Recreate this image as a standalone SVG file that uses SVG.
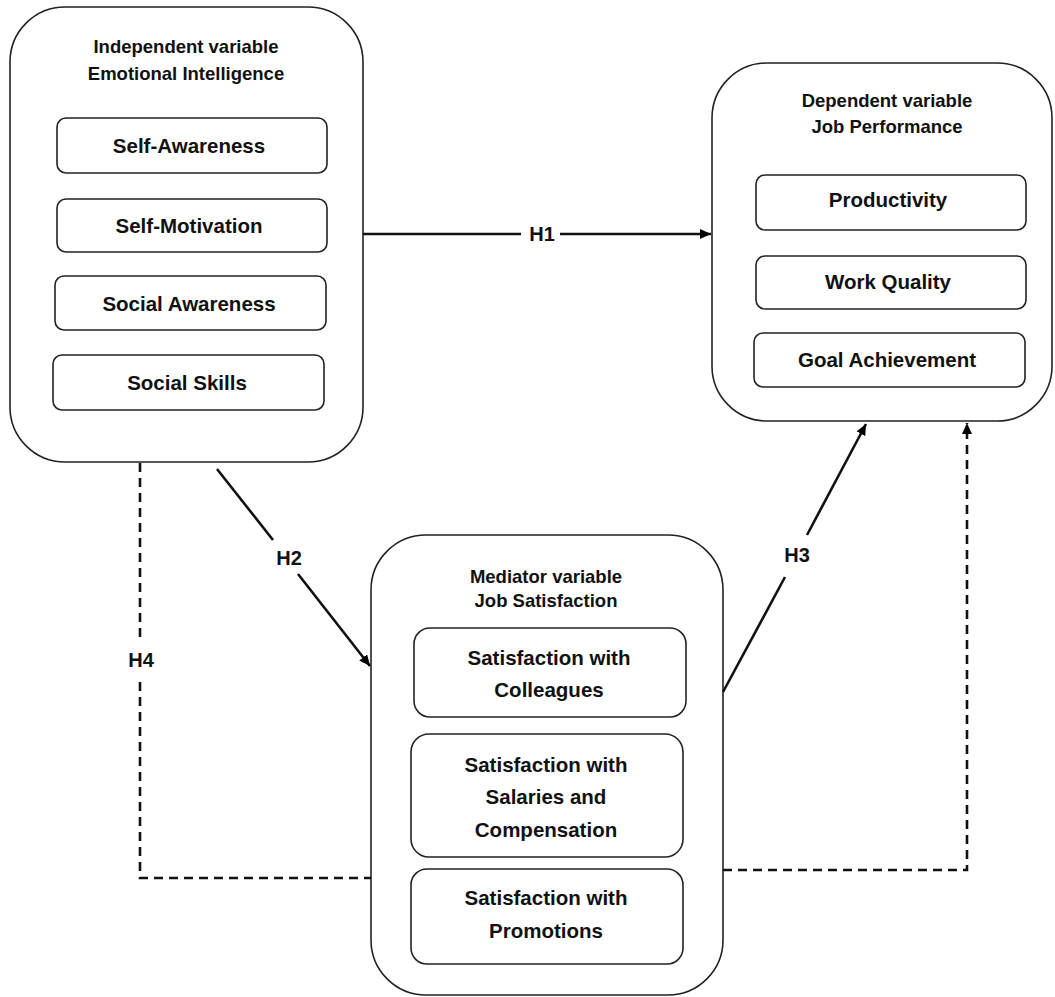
<svg xmlns="http://www.w3.org/2000/svg" width="1055" height="997" viewBox="0 0 1055 997">
<defs>
<marker id="arr" markerUnits="userSpaceOnUse" markerWidth="12" markerHeight="10" refX="11" refY="5" orient="auto">
<path d="M0,0 L11,5 L0,10 z" fill="#000"/>
</marker>
<style>
.big{fill:#fff;stroke:#222;stroke-width:1.6}
.item{fill:#fff;stroke:#222;stroke-width:1.6}
.title{font-family:"Liberation Sans",Arial,sans-serif;font-weight:bold;font-size:18.5px;fill:#111;text-anchor:middle}
.lbl{font-family:"Liberation Sans",Arial,sans-serif;font-weight:bold;font-size:20.5px;fill:#111;text-anchor:middle}
.h{font-family:"Liberation Sans",Arial,sans-serif;font-weight:bold;font-size:20px;fill:#111;text-anchor:middle}
.con{fill:none;stroke:#111;stroke-width:2.6}
.dash{fill:none;stroke:#111;stroke-width:2.6;stroke-dasharray:9 6}
</style>
</defs>
<rect width="1055" height="997" fill="#fff"/>

<g id="independent">
<rect class="big" x="10" y="7" width="353" height="455" rx="55" ry="55"/>
<text class="title" x="186" y="53">Independent variable</text>
<text class="title" x="186" y="80">Emotional Intelligence</text>
<rect class="item" x="57" y="118" width="270" height="55" rx="9"/>
<text class="lbl" x="189" y="153">Self-Awareness</text>
<rect class="item" x="57" y="199" width="270" height="53" rx="9"/>
<text class="lbl" x="189" y="233">Self-Motivation</text>
<rect class="item" x="55" y="276" width="271" height="54" rx="9"/>
<text class="lbl" x="189" y="311">Social Awareness</text>
<rect class="item" x="53" y="355" width="271" height="55" rx="9"/>
<text class="lbl" x="187" y="390">Social Skills</text>
</g>

<g id="dependent">
<rect class="big" x="712" y="63" width="340" height="358" rx="55" ry="55"/>
<text class="title" x="887" y="107">Dependent variable</text>
<text class="title" x="887" y="133">Job Performance</text>
<rect class="item" x="756" y="175" width="270" height="55" rx="9"/>
<text class="lbl" x="888" y="207">Productivity</text>
<rect class="item" x="756" y="256" width="270" height="53" rx="9"/>
<text class="lbl" x="888" y="289">Work Quality</text>
<rect class="item" x="754" y="333" width="271" height="54" rx="9"/>
<text class="lbl" x="887" y="367">Goal Achievement</text>
</g>

<g id="mediator">
<rect class="big" x="371" y="535" width="352" height="460" rx="55" ry="55"/>
<text class="title" x="546" y="583">Mediator variable</text>
<text class="title" x="546" y="607">Job Satisfaction</text>
<rect class="item" x="414" y="628" width="272" height="89" rx="16"/>
<text class="lbl" x="549" y="665">Satisfaction with</text>
<text class="lbl" x="549" y="697">Colleagues</text>
<rect class="item" x="411" y="734" width="272" height="123" rx="18"/>
<text class="lbl" x="546" y="772">Satisfaction with</text>
<text class="lbl" x="546" y="804">Salaries and</text>
<text class="lbl" x="546" y="837">Compensation</text>
<rect class="item" x="411" y="869" width="272" height="95" rx="16"/>
<text class="lbl" x="546" y="905">Satisfaction with</text>
<text class="lbl" x="546" y="938">Promotions</text>
</g>

<g id="connectors">
<line class="con" x1="363" y1="234" x2="521" y2="234"/>
<line class="con" x1="560" y1="234" x2="711" y2="234" marker-end="url(#arr)"/>
<text class="h" x="542" y="241">H1</text>

<line class="con" x1="217" y1="469" x2="273" y2="540"/>
<line class="con" x1="298" y1="574" x2="370" y2="666" marker-end="url(#arr)"/>
<text class="h" x="289" y="565">H2</text>

<line class="con" x1="723" y1="692" x2="785" y2="577"/>
<line class="con" x1="807" y1="535" x2="866" y2="424" marker-end="url(#arr)"/>
<text class="h" x="797" y="562">H3</text>

<polyline class="dash" points="140,463 140,640"/>
<polyline class="dash" points="140,682 140,878 371,878"/>
<text class="h" x="141" y="667">H4</text>

<polyline class="dash" points="723,870 967,870 967,423" marker-end="url(#arr)"/>
</g>
</svg>
